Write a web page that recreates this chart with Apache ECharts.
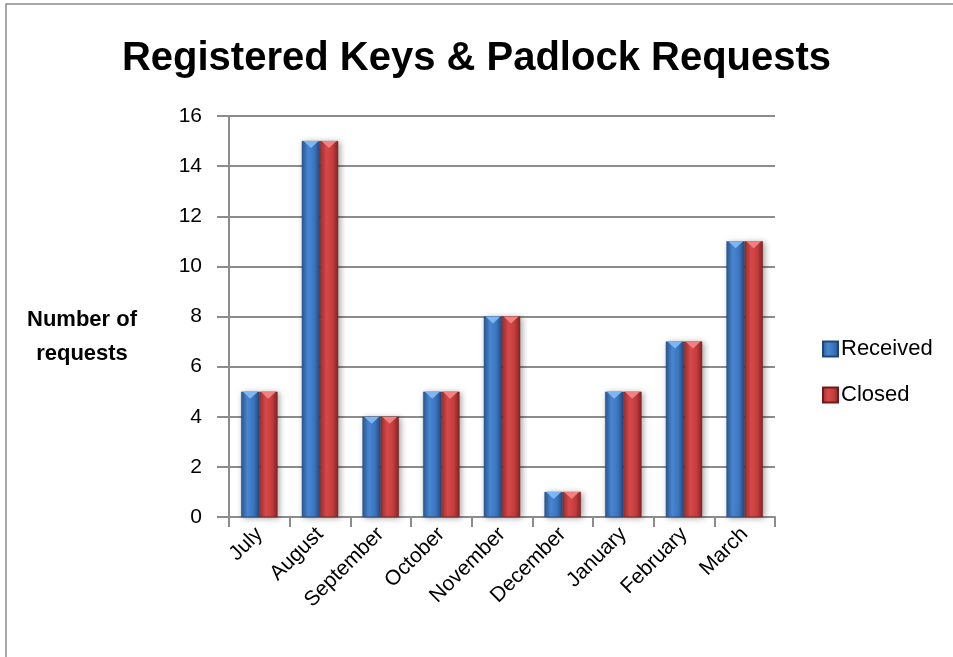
<!DOCTYPE html>
<html>
<head>
<meta charset="utf-8">
<script src="https://cdn.jsdelivr.net/npm/echarts@6/dist/echarts.min.js"></script>
<style>
  html, body { margin: 0; padding: 0; background: #fff; }
  #chart { width: 953px; height: 657px; }
</style>
</head>
<body>
<div id="chart"></div>
<script>
const months = ['July', 'August', 'September', 'October', 'November', 'December', 'January', 'February', 'March']
const received = [5, 15, 4, 5, 8, 1, 5, 7, 11]
const closed = [5, 15, 4, 5, 8, 1, 5, 7, 11]
const yTicks = { min: 0, max: 16, interval: 2 }

const font = 'Liberation Sans'
const blueFill = new echarts.graphic.LinearGradient(0, 0, 1, 0, [
  { offset: 0, color: '#295791' },
  { offset: 0.35, color: '#4a88d3' },
  { offset: 0.7, color: '#3a74bd' },
  { offset: 1, color: '#24508a' }
])
const redFill = new echarts.graphic.LinearGradient(0, 0, 1, 0, [
  { offset: 0, color: '#9c2e2e' },
  { offset: 0.35, color: '#d84a4a' },
  { offset: 0.7, color: '#c43c3c' },
  { offset: 1, color: '#862424' }
])

// bevel highlight on the top of each bar
function bevel(name, data, dx, color) {
  return {
    name: name,
    type: 'pictorialBar',
    data: data,
    symbol: 'triangle',
    symbolRotate: 180,
    symbolSize: [15, 7],
    symbolPosition: 'end',
    symbolOffset: [dx, 0],
    z: 5,
    silent: true,
    itemStyle: { color: color }
  }
}

const chart = echarts.init(document.getElementById('chart'))
chart.setOption({
  backgroundColor: '#fff',
  animation: false,
  graphic: [{
    type: 'rect',
    shape: { x: 6, y: 4, width: 960, height: 660 },
    style: { fill: 'none', stroke: '#8a8a8a', lineWidth: 1.5 }
  }, {
    type: 'text',
    x: 82,
    y: 337,
    style: {
      text: 'Number of\nrequests',
      font: 'bold 22px "Liberation Sans"',
      lineHeight: 34,
      fill: '#000',
      align: 'center',
      verticalAlign: 'middle'
    }
  }],
  title: {
    text: 'Registered Keys & Padlock Requests',
    left: 'center',
    top: 34,
    textStyle: { fontFamily: font, fontWeight: 'bold', fontSize: 40, color: '#000' }
  },
  legend: {
    orient: 'vertical',
    left: 817,
    top: 333,
    itemWidth: 15,
    itemHeight: 15,
    itemGap: 24,
    icon: 'rect',
    textStyle: { fontFamily: font, fontSize: 22, color: '#000', padding: [0, 0, 0, -2] },
    data: ['Received', 'Closed']
  },
  grid: { left: 229, right: 178, top: 116, bottom: 140 },
  xAxis: {
    type: 'category',
    data: months,
    axisLine: { lineStyle: { color: '#8c8c8c', width: 2 } },
    axisTick: { show: true, length: 10, lineStyle: { color: '#8c8c8c', width: 2 } },
    axisLabel: { rotate: 45, margin: 14, fontFamily: font, fontSize: 21, color: '#000', interval: 0 }
  },
  yAxis: {
    type: 'value',
    min: yTicks.min,
    max: yTicks.max,
    interval: yTicks.interval,
    axisLine: { show: true, lineStyle: { color: '#8c8c8c', width: 2 } },
    axisTick: { show: true, inside: false, length: 12, lineStyle: { color: '#8c8c8c', width: 2 } },
    axisLabel: { margin: 27, fontFamily: font, fontSize: 21, color: '#000' },
    splitLine: { lineStyle: { color: '#8c8c8c', width: 2 } }
  },
  series: [{
    name: 'Received',
    type: 'bar',
    data: received,
    barGap: '0%',
    barCategoryGap: '40%',
    itemStyle: {
      color: blueFill,
      borderColor: '#1f4677',
      borderWidth: 0.5,
      shadowColor: 'rgba(0,0,0,0.35)',
      shadowBlur: 6,
      shadowOffsetX: 2,
      shadowOffsetY: 1
    }
  }, {
    name: 'Closed',
    type: 'bar',
    data: closed,
    barGap: '0%',
    barCategoryGap: '40%',
    itemStyle: {
      color: redFill,
      borderColor: '#6e1b1b',
      borderWidth: 0.5,
      shadowColor: 'rgba(0,0,0,0.35)',
      shadowBlur: 6,
      shadowOffsetX: 2,
      shadowOffsetY: 1
    }
  },
  bevel('ReceivedTop', received, -9, '#7eb6f2'),
  bevel('ClosedTop', closed, 9, '#f28080')]
})
</script>
</body>
</html>
